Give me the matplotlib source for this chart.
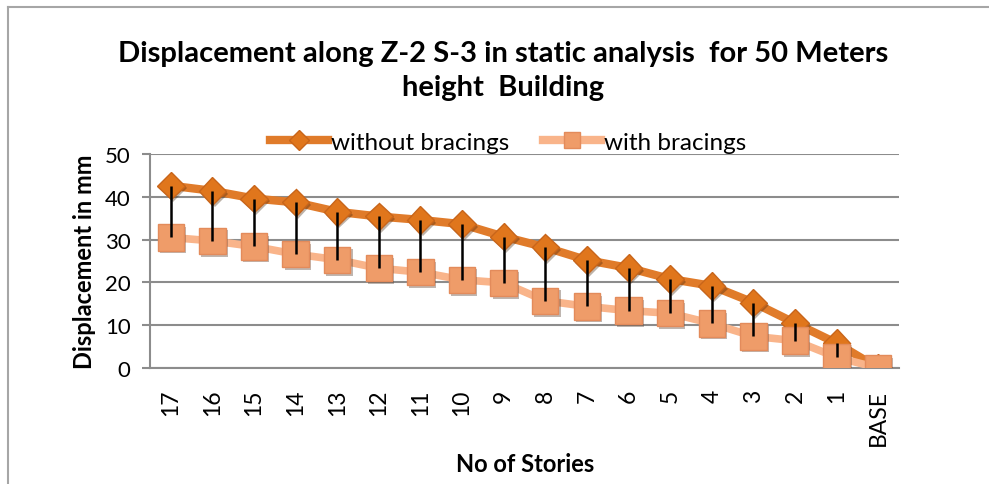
import numpy as np
import matplotlib.pyplot as plt
import matplotlib.patheffects as pe
from matplotlib.lines import Line2D

plt.rcParams['font.family'] = ['Lato', 'DejaVu Sans']

stories = ['17', '16', '15', '14', '13', '12', '11', '10', '9', '8', '7', '6', '5', '4', '3', '2', '1', 'BASE']
without_bracings = [42.6, 41.4, 39.6, 38.7, 36.5, 35.4, 34.6, 33.6, 30.7, 28.2, 25.2, 23.4, 20.8, 19.2, 15.3, 10.5, 5.8, 0]
with_bracings = [30.5, 29.7, 28.4, 26.6, 25.3, 23.3, 22.4, 20.6, 19.9, 15.7, 14.4, 13.4, 12.8, 10.4, 7.4, 6.4, 2.5, 0]

dark = '#e07b2a'
light = '#f9b48a'

fig = plt.figure(figsize=(9.89, 4.85), dpi=100)
W, H = 989, 485
ax = fig.add_axes([150 / W, 1 - 369 / H, 749 / W, 214 / H])

x = np.arange(len(stories))

# outer chart border (left + top visible)
fig.add_artist(Line2D([8 / W, 8 / W], [0, 1 - 8 / H], color='#a6a6a6', lw=1.5))
fig.add_artist(Line2D([8 / W, 1], [1 - 8 / H, 1 - 8 / H], color='#a6a6a6', lw=1.5))

shadow = [pe.SimplePatchShadow(offset=(1.5, -2), alpha=0.35), pe.Normal()]

ax.plot(x, without_bracings, color=dark, lw=6, zorder=2, solid_capstyle='round')
ax.plot(x, without_bracings, ls='none', marker='D', ms=14, mfc='#e0761c', mec='#c8651a',
        mew=1, zorder=3, path_effects=shadow)
ax.plot(x, with_bracings, color=light, lw=5.5, zorder=4, solid_capstyle='round')
ax.plot(x, with_bracings, ls='none', marker='s', ms=19, mfc='#ef9c69', mec='#e38b5b',
        mew=1, zorder=5, path_effects=shadow)

# high-low lines
ax.vlines(x, with_bracings, without_bracings, color='black', lw=1.8, zorder=6)

ax.set_xlim(-0.5, len(stories) - 0.5)
ax.set_ylim(0, 50)
ax.set_yticks([0, 10, 20, 30, 40, 50])
ax.yaxis.grid(True, color='#8c8c8c', lw=1.5)
ax.set_axisbelow(True)
for s in ['top', 'right']:
    ax.spines[s].set_visible(False)
for s in ['left', 'bottom']:
    ax.spines[s].set_color('#8c8c8c')
    ax.spines[s].set_linewidth(1.5)

ax.set_xticks(x)
ax.set_xticklabels(stories, rotation=90, fontsize=16.5, ha='right', va='center',
                   rotation_mode='anchor')
ax.tick_params(axis='x', length=0, pad=15)
ax.tick_params(axis='y', length=6, width=1.5, color='#8c8c8c', labelsize=16, pad=8)

ax.set_ylabel('Displacement in mm', fontsize=17, fontweight='bold', labelpad=6)
fig.text(525 / W, 1 - 465 / H, 'No of Stories', fontsize=17, fontweight='bold',
         ha='center', va='center')

fig.text(503 / W, 1 - 71 / H,
         'Displacement along Z-2 S-3 in static analysis  for 50 Meters\nheight  Building',
         fontsize=21, fontweight='bold', ha='center', va='center', linespacing=1.4)

handles = [
    Line2D([], [], color=dark, lw=6, marker='D', ms=10, mfc='#e0761c', mec='#c8651a'),
    Line2D([], [], color=light, lw=6, marker='s', ms=12, mfc='#ef9c69', mec='#e38b5b'),
]
fig.legend(handles, ['without bracings', 'with bracings'], loc='center',
           bbox_to_anchor=(508 / W, 1 - 143 / H), ncol=2, frameon=False,
           fontsize=17.5, handlelength=2.4, columnspacing=1.4, handletextpad=0.1,
           borderpad=0)

fig.savefig('out.png', dpi=100)
